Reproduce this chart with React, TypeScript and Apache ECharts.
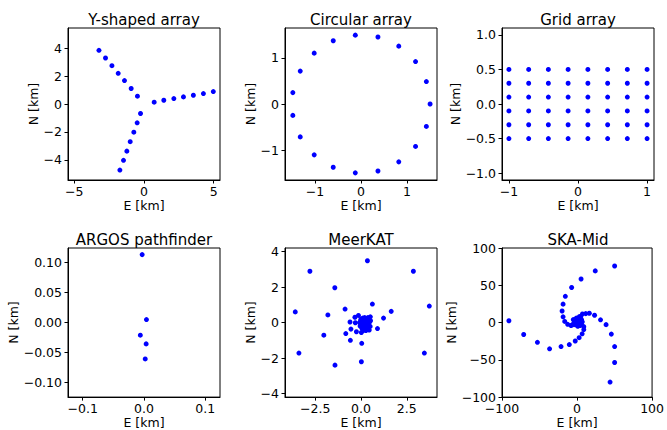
import React, { useEffect, useRef } from "react";
import * as echarts from "echarts";

const titles = ["Y-shaped array", "Circular array", "Grid array", "ARGOS pathfinder", "MeerKAT", "SKA-Mid"];

// [E, N] in km
const yShapedPts = [
  [-3.23, 3.85], [-2.76, 3.3], [-2.3, 2.75], [-1.85, 2.2], [-1.4, 1.68], [-0.92, 1.11], [-0.47, 0.56],
  [0.73, 0.13], [1.42, 0.27], [2.14, 0.39], [2.83, 0.51], [3.54, 0.63], [4.26, 0.75], [4.97, 0.89],
  [-0.25, -0.68], [-0.49, -1.35], [-0.73, -2.02], [-0.99, -2.7], [-1.23, -3.38], [-1.47, -4.04], [-1.73, -4.74],
];

const circularPts = [
  [1.5, 0], [1.419, 0.487], [1.184, 0.921], [0.82, 1.256], [0.368, 1.454], [-0.124, 1.495],
  [-0.603, 1.374], [-1.016, 1.104], [-1.319, 0.714], [-1.48, 0.247], [-1.48, -0.247],
  [-1.319, -0.714], [-1.016, -1.104], [-0.603, -1.374], [-0.124, -1.495], [0.368, -1.454],
  [0.82, -1.256], [1.184, -0.921], [1.419, -0.487],
];

const gridColsE = [-1, -0.714, -0.429, -0.143, 0.143, 0.429, 0.714, 1];
const gridRowsN = [0.5, 0.3, 0.1, -0.1, -0.3, -0.5];

const argosPts = [
  [-0.003, 0.113], [0.004, 0.005], [-0.006, -0.021], [0.0035, -0.0355], [0.002, -0.0605],
];

const meerkatPts = [
  [0.35, 3.48], [-2.79, 2.89], [2.86, 2.89], [-1.43, 1.96], [3.73, 0.93], [-3.59, 0.6],
  [0.62, 1.04], [1.65, 0.63], [-0.87, 0.76], [-1.81, 0.43], [1.23, 0.25], [-3.39, -1.72],
  [3.46, -1.72], [-2.03, -0.71], [-1.42, -2.4], [0.02, -2.21], [0.04, -1.17], [-0.58, -1.0],
  [-0.83, -0.62], [0.9, -0.34], [-0.33, 0.3], [-0.14, 0.4], [-0.6, 0.03], [-0.31, -0.01],
  [-0.55, -0.37], [-0.25, -0.52], [0.02, -0.56], [0.27, -0.45], [0.51, 0.32],
  [0.0, 0.2], [0.1, 0.25], [0.2, 0.28], [0.3, 0.22], [0.4, 0.15], [0.45, 0.0], [0.42, -0.15],
  [0.35, -0.3], [0.2, -0.38], [0.05, -0.32], [-0.05, -0.2], [-0.08, 0.0], [0.02, 0.08],
  [0.12, 0.05], [0.22, 0.1], [0.32, 0.05], [0.3, -0.08], [0.18, -0.12], [0.08, -0.1],
  [0.15, -0.25], [0.28, -0.22], [0.4, -0.35], [0.5, -0.22], [0.52, 0.1], [0.1, 0.15],
  [0.25, -0.02], [0.0, -0.08], [-0.02, 0.12], [0.38, 0.28], [0.45, -0.42], [0.12, -0.45],
];

const skaPts = [
  [-12.5, -2.4], [-16.4, 1.5], [-18.6, 7.7], [-19.9, 15.5], [-18.6, 24.7], [-15.6, 35.2],
  [-7.2, 47], [5.4, 58.4], [24.3, 69.3], [50.1, 75.9],
  [7.2, 11.6], [11.6, 12], [16.4, 12.5], [23.4, 9.8], [31.3, 3.7], [38.7, -2.8],
  [45.7, -15.5], [50.1, -32.2], [50.1, -53.6], [44, -79.8],
  [9, -5.5], [9, -9.4], [6.8, -15.1], [2.8, -20.3], [-2.4, -24.7], [-10.3, -29.5],
  [-21.3, -32.2], [-36.6, -35.2], [-52.8, -26.5], [-71.1, -16], [-90.8, 2.4],
  [0, 0], [2, 3], [4, 5], [6, 4], [7, 1], [6, -2], [4, -4], [1, -5], [-2, -3], [-4, 0],
  [-3, 3], [-1, 6], [3, 8], [-6, -3], [-8, -4], [1, 2], [3, -1], [-1, -1], [5, 8], [-5, 4],
];

const axisLimits = [5.45, 1.65, 1.1, 0.124, 4.15, 100];
const axisLimitsN = [5.45, 1.65, 1.1, 0.124, 4.2, 100];

const xTicks = [[-5, 0, 5], [-1, 0, 1], [-1, 0, 1], [-0.1, 0, 0.1], [-2.5, 0, 2.5], [-100, 0, 100]];
const yTicks = [
  [-4, -2, 0, 2, 4], [-1, 0, 1], [-1, -0.5, 0, 0.5, 1],
  [-0.1, -0.05, 0, 0.05, 0.1], [-4, -2, 0, 2, 4], [-100, -50, 0, 50, 100],
];
const xDecimals = [0, 0, 0, 1, 1, 0];
const yDecimals = [0, 0, 1, 2, 0, 0];

const colLeft = [68, 285, 502];
const rowTop = [28, 248];
const boxSize = 152;
const yNameGap = [23, 24, 37, 44, 23, 38];

const FONT = "DejaVu Sans";

function fmt(v: number, d: number): string {
  const s = Math.abs(v).toFixed(d);
  return (v < 0 ? "\u2212" : "") + s;
}

export default function App() {
  const ref = useRef<HTMLDivElement>(null);
  useEffect(() => {
    if (!ref.current) return;
    const chart = echarts.init(ref.current, null, { renderer: "svg" });
    const gridPts: number[][] = [];
    gridRowsN.forEach((n) => gridColsE.forEach((e) => gridPts.push([e, n])));
    const allPts = [yShapedPts, circularPts, gridPts, argosPts, meerkatPts, skaPts];

    const grids: any[] = [];
    const xAxes: any[] = [];
    const yAxes: any[] = [];
    const series: any[] = [];
    const graphics: any[] = [];
    for (let i = 0; i < 6; i++) {
      const col = i % 3;
      const row = Math.floor(i / 3);
      grids.push({
        left: colLeft[col], top: rowTop[row], width: boxSize, height: boxSize,
        show: true, borderColor: "#000", borderWidth: 1, backgroundColor: "transparent",
      });
      const common = {
        gridIndex: i, type: "value",
        splitLine: { show: false },
        axisLine: { show: true, onZero: false, lineStyle: { color: "#000", width: 1 } },
        nameLocation: "middle",
        nameTextStyle: { fontFamily: FONT, fontSize: 12.5, color: "#000" },
      };
      xAxes.push({
        ...common,
        min: -axisLimits[i], max: axisLimits[i],
        axisTick: { show: true, length: 3.5, customValues: xTicks[i], lineStyle: { color: "#000" } },
        axisLabel: {
          customValues: xTicks[i], formatter: (v: number) => fmt(v, xDecimals[i]),
          color: "#000", fontFamily: FONT, fontSize: 12.5, margin: 5,
        },
        name: "E [km]", nameGap: 14,
      });
      yAxes.push({
        ...common,
        min: -axisLimitsN[i], max: axisLimitsN[i],
        axisTick: { show: true, length: 3.5, customValues: yTicks[i], lineStyle: { color: "#000" } },
        axisLabel: {
          customValues: yTicks[i], formatter: (v: number) => fmt(v, yDecimals[i]),
          color: "#000", fontFamily: FONT, fontSize: 12.5, margin: 6,
        },
        name: "N [km]", nameGap: yNameGap[i], nameRotate: 90,
      });
      series.push({
        type: "scatter", xAxisIndex: i, yAxisIndex: i, data: allPts[i],
        symbolSize: 5, itemStyle: { color: "#0000ff", opacity: 1 },
      });
      graphics.push({
        type: "text",
        x: colLeft[col] + boxSize / 2,
        y: rowTop[row] - 8,
        style: {
          text: titles[i], fontFamily: FONT, fontSize: 15, fill: "#000",
          align: "center", verticalAlign: "middle",
        },
      });
    }

    chart.setOption({
      animation: false,
      backgroundColor: "#fff",
      grid: grids,
      xAxis: xAxes,
      yAxis: yAxes,
      series,
      graphic: graphics,
    });
    return () => chart.dispose();
  }, []);
  return (
    <div
      ref={ref}
      style={{ position: "absolute", left: 0, top: 0, width: 667, height: 430 }}
    />
  );
}
